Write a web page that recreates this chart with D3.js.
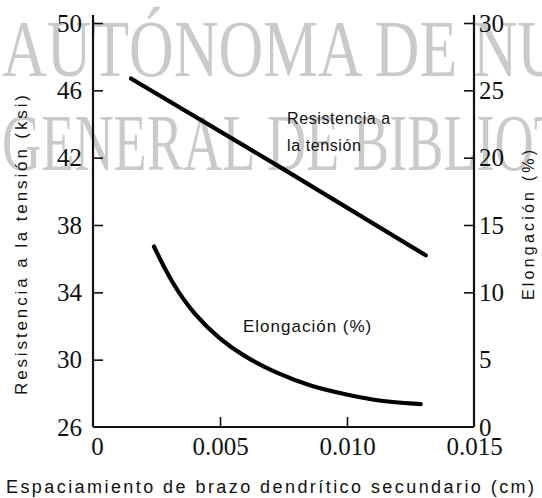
<!DOCTYPE html>
<html><head><meta charset="utf-8">
<script src="https://cdn.jsdelivr.net/npm/d3@7"></script>
<style>body{margin:0;background:#fff}svg{display:block}</style>
</head><body>
<script>
// ---- data ----
const xTicks = [0, 0.005, 0.010, 0.015];
const xTickLabels = ["0", "0.005", "0.010", "0.015"];
const leftTicks = [26, 30, 34, 38, 42, 46, 50];
const rightTicks = [0, 5, 10, 15, 20, 25, 30];
const tensionX = [0.0015, 0.0073, 0.0131];
const tensionY = [46.7, 41.5, 36.2];
const elongX = [0.0024, 0.0031, 0.0040, 0.0050, 0.0059, 0.0072, 0.0086, 0.0100, 0.0113, 0.0129];
const elongY = [13.4, 10.7, 8.3, 6.5, 5.3, 4.0, 3.0, 2.4, 1.9, 1.7];
const watermark = ["AUTÓNOMA DE NU", "GENERAL DE BIBLIOT"];

(function(){
const W = 542, H = 498;
const m = {l: 93, t: 23, r: 68, b: 71};
const svg = d3.select("body").append("svg").attr("width", W).attr("height", H);

// watermark
svg.selectAll("text.wm").data(watermark).join("text").attr("class","wm")
  .attr("x", 2).attr("y", (d,i)=> i===0 ? 76 : 170)
  .attr("font-family", "Liberation Serif").attr("font-size", 80)
  .attr("textLength", (d,i)=> i===0 ? 560 : 565).attr("lengthAdjust","spacingAndGlyphs")
  .attr("fill", "#cacaca").text(d=>d);

const x = d3.scaleLinear().domain([0, 0.015]).range([m.l, W - m.r]);
const yL = d3.scaleLinear().domain([26, 50]).range([H - m.b, m.t]);
const yR = d3.scaleLinear().domain([0, 30]).range([H - m.b, m.t]);

const serif = "Liberation Serif";
const gL = svg.append("g").attr("transform", `translate(${m.l},0)`)
  .call(d3.axisLeft(yL).tickValues(leftTicks).tickSizeInner(-10).tickSizeOuter(0).tickPadding(11).tickFormat(d3.format("d")));
const gR = svg.append("g").attr("transform", `translate(${W - m.r},0)`)
  .call(d3.axisRight(yR).tickValues(rightTicks).tickSizeInner(-10).tickSizeOuter(0).tickPadding(5).tickFormat(d3.format("d")));
const gB = svg.append("g").attr("transform", `translate(0,${H - m.b})`)
  .call(d3.axisBottom(x).tickValues(xTicks).tickSizeInner(-10).tickSizeOuter(0).tickPadding(10).tickFormat((d,i)=>xTickLabels[i]));
[gL, gR, gB].forEach(g => {
  g.select(".domain").remove();
  g.selectAll("text").attr("font-family", serif).attr("font-size", 25).attr("fill", "#111");
  g.selectAll("line").attr("stroke", "#111").attr("stroke-width", 1.6);
});
gL.selectAll(".tick").filter(d => d === 26).select("line").remove();
gR.selectAll(".tick").filter(d => d === 0 || d === 5).select("line").remove();
gB.selectAll(".tick").filter(d => d === 0 || d === 0.015).select("line").remove();
gB.selectAll("text").attr("dy", "0.71em");
gB.selectAll(".tick").filter(d => d === 0).select("text").attr("dx", 4);

const axTop = yL(50) - 8;
svg.append("line").attr("x1", x(0)).attr("x2", x(0)).attr("y1", axTop).attr("y2", yL(26))
  .attr("stroke", "#111").attr("stroke-width", 2.2);
svg.append("line").attr("x1", x(0.015)).attr("x2", x(0.015)).attr("y1", axTop).attr("y2", yL(26))
  .attr("stroke", "#111").attr("stroke-width", 2.2);
svg.append("line").attr("x1", x(0)).attr("x2", x(0.015)).attr("y1", yL(26)).attr("y2", yL(26))
  .attr("stroke", "#111").attr("stroke-width", 2.2);

const tensionPts = tensionX.map((v,i)=>[x(v), yL(tensionY[i])]);
const elongPts = elongX.map((v,i)=>[x(v), yR(elongY[i])]);
svg.append("path").attr("d", d3.line().curve(d3.curveMonotoneX)(tensionPts))
  .attr("fill","none").attr("stroke","#000").attr("stroke-width",4.2).attr("stroke-linecap","round");
svg.append("path").attr("d", d3.line().curve(d3.curveBasis)(elongPts))
  .attr("fill","none").attr("stroke","#000").attr("stroke-width",4.2).attr("stroke-linecap","round");

const sans = "Liberation Sans";
svg.append("text").attr("x", 287).attr("y", 124).attr("font-family", sans).attr("font-size", 16)
  .attr("letter-spacing", 0.6).attr("fill","#111").text("Resistencia a");
svg.append("text").attr("x", 287).attr("y", 151).attr("font-family", sans).attr("font-size", 16)
  .attr("letter-spacing", 0.6).attr("fill","#111").text("la tensión");
svg.append("text").attr("x", 243).attr("y", 332).attr("font-family", sans).attr("font-size", 17)
  .attr("letter-spacing", 1).attr("fill","#111").text("Elongación (%)");

svg.append("text").attr("x", 270).attr("y", 493).attr("text-anchor","middle")
  .attr("font-family", sans).attr("font-size", 18).attr("textLength", 528).attr("lengthAdjust","spacing")
  .attr("fill","#111").text("Espaciamiento de brazo dendrítico secundario (cm)");
svg.append("text").attr("transform", "translate(27,245) rotate(-90)").attr("text-anchor","middle")
  .attr("font-family", sans).attr("font-size", 17).attr("textLength", 300).attr("lengthAdjust","spacing")
  .attr("fill","#111").text("Resistencia a la tensión (ksi)");
svg.append("text").attr("transform", "translate(534,225) rotate(-90)").attr("text-anchor","middle")
  .attr("font-family", sans).attr("font-size", 16).attr("textLength", 150).attr("lengthAdjust","spacing")
  .attr("fill","#111").text("Elongación (%)");
})();
</script>
</body></html>
